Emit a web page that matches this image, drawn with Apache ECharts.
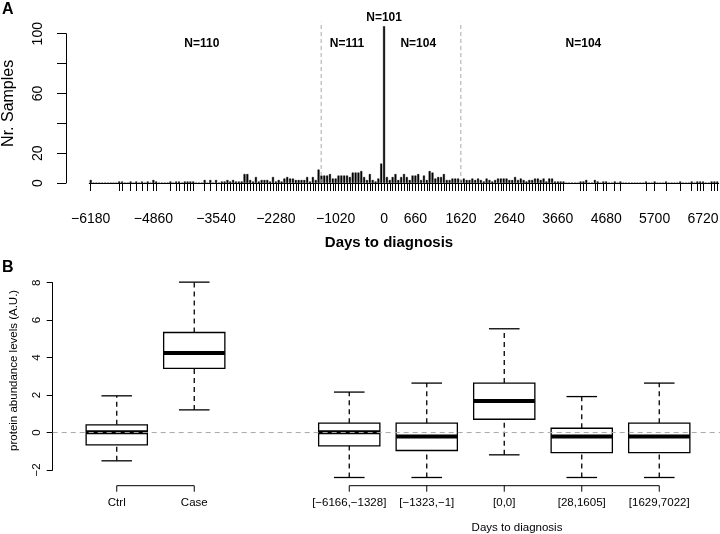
<!DOCTYPE html>
<html><head><meta charset="utf-8">
<script src="https://cdn.jsdelivr.net/npm/echarts@6/dist/echarts.min.js"></script>
<style>html,body{margin:0;padding:0;background:#fff}#c{width:720px;height:534px}</style>
</head><body><div id="c"></div>
<script>
// ---------- Panel A data: samples per 60-day bin ----------
const binStartDay = -6180;
const binWidthDays = 60;
const sampleCounts = [
  2,0,0,0,0,0,0,0,0,0,   1,1,0,0,1,0,1,0,1,0,
  1,0,2,1,0,0,0,0,1,0,   1,1,0,1,1,1,1,0,0,0,
  2,0,2,0,2,0,1,1,
  2,1,2,1,1,1,6,6,2,1,   4,1,2,2,2,1,4,1,2,1,
  3,4,3,3,2,2,2,2,4,1,   4,2,9,
  5,5,5,6,3,3,5,5,5,5,   4,7,7,7,8,4,2,6,2,1,   3,13,
  105,
  4,2,4,6,2,4,6,4,2,5,   5,6,2,5,2,8,7,3,4,4,   6,2,2,3,3,3,
  2,3,2,2,3,2,3,2,1,3,   2,1,2,3,3,3,3,2,2,4,
  2,3,2,1,2,2,3,3,2,3,   1,3,3,1,1,1,1,
  0,0,0,0,0,
  1,1,2,0,0,2,1,0,1,1,   0,0,1,0,1,0,0,0,0,0,
  0,0,0,1,0,0,1,0,0,0,   1,0,0,0,0,1,0,0,0,1,
  0,1,1,1,0,0,1,1,1
];
const tickLabelDays = [-6180,-4860,-3540,-2280,-1020,0,660,1620,2640,3660,4680,5700,6720];
const groupBreakDays = [-1325, 1617];
const groupLabels = ['N=110','N=111','N=101','N=104','N=104'];
const groupLabelDays = [-3840, -780, 0, 720, 4200];
const groupLabelLevels = [93.6, 93.6, 111, 93.6, 93.6];

// ---------- Panel B data: protein abundance boxplots ----------
const boxCategories = ['Ctrl','Case','','[-6166,-1328]','[-1323,-1]','[0,0]','[28,1605]','[1629,7022]'];
const boxSlots      = [0, 1, 3, 4, 5, 6, 7];
const whiskerLow    = [-1.51, 1.21, -2.40, -2.40, -1.19, -2.40, -2.40];
const quart1        = [-0.66, 3.43, -0.71, -0.96,  0.71, -1.07, -1.07];
const medians       = [ 0.02, 4.24,  0.02, -0.21,  1.69, -0.21, -0.21];
const quart3        = [ 0.41, 5.34,  0.50,  0.50,  2.64,  0.23,  0.50];
const whiskerHigh   = [ 1.96, 8.03,  2.16,  2.64,  5.54,  1.92,  2.64];
const bracketGroups = [[0,1],[3,7]];

const minus = s => String(s).replace(/-/g, '\u2212');
const FONT = 'Liberation Sans, Arial, Helvetica, sans-serif';

const binCats = sampleCounts.map((_, i) => String(binStartDay + i * binWidthDays));
const boxData = boxSlots.map((s, i) => [s, whiskerLow[i], quart1[i], medians[i], quart3[i], whiskerHigh[i]]);

const chart = echarts.init(document.getElementById('c'), null, {renderer: 'canvas'});

function binCoord(api, day) {
  const f = (day - binStartDay) / binWidthDays;
  const k = Math.floor(f);
  const a = api.coord([k, 0])[0], b = api.coord([k + 1, 0])[0];
  return a + (f - k) * (b - a);
}

const option = {
  backgroundColor: '#fff',
  animation: false,
  textStyle: {fontFamily: FONT, color: '#000'},
  grid: [
    {left: 89.3, top: 33.7, width: 629.4, height: 149.3, containLabel: false, outerBoundsMode: 'none'},
    {left: 78, top: 282.7, width: 620, height: 187.3, containLabel: false, outerBoundsMode: 'none'}
  ],
  xAxis: [
    {
      type: 'category', gridIndex: 0, data: binCats, offset: 4,
      axisLine: {show: true, lineStyle: {color: '#000', width: 1}},
      axisTick: {show: true, alignWithLabel: true, length: 8, lineStyle: {color: '#000', width: 1},
        interval: (i) => sampleCounts[i] > 0},
      axisLabel: {show: true, interval: (i, v) => tickLabelDays.indexOf(+v) >= 0,
        formatter: v => minus(v), fontSize: 14, color: '#000', margin: 25, fontFamily: FONT},
      splitLine: {show: false},
      name: 'Days to diagnosis', nameLocation: 'middle', nameGap: 48,
      nameTextStyle: {fontSize: 15, fontWeight: 'bold', color: '#000', padding: [0, 30, 0, 0], fontFamily: FONT}
    },
    {
      type: 'category', gridIndex: 1, data: boxCategories,
      axisLine: {show: false}, axisTick: {show: false},
      axisLabel: {show: true, interval: 0, formatter: v => minus(v), fontSize: 11.5, color: '#000', margin: 27, fontFamily: FONT},
      splitLine: {show: false}
    }
  ],
  yAxis: [
    {
      type: 'value', gridIndex: 0, min: 0, max: 100, interval: 20, offset: 23.3,
      axisLine: {show: true, lineStyle: {color: '#000', width: 1}},
      axisTick: {show: true, length: 9, lineStyle: {color: '#000'}},
      axisLabel: {rotate: 90, fontSize: 14, color: '#000', margin: 21, fontFamily: FONT,
        formatter: v => (v === 40 || v === 80) ? '' : String(v)},
      splitLine: {show: false},
      name: 'Nr. Samples', nameLocation: 'middle', nameRotate: 90, nameGap: 49, nameMoveOverlap: false,
      nameTextStyle: {fontSize: 16, color: '#000', fontFamily: FONT, padding: [0, 0, 0, 10]}
    },
    {
      type: 'value', gridIndex: 1, min: -2, max: 8, interval: 2, offset: 25.3,
      axisLine: {show: true, lineStyle: {color: '#000', width: 1}},
      axisTick: {show: true, length: 6, lineStyle: {color: '#000'}},
      axisLabel: {rotate: 90, fontSize: 11.5, color: '#000', margin: 10, fontFamily: FONT, formatter: v => minus(v)},
      splitLine: {show: false},
      name: 'protein abundance levels (A.U.)', nameLocation: 'middle', nameRotate: 90, nameGap: 33, nameMoveOverlap: false,
      nameTextStyle: {fontSize: 11.5, color: '#000', fontFamily: FONT, padding: [0, 0, 0, 12]}
    }
  ],
  series: [
    {
      type: 'bar', xAxisIndex: 0, yAxisIndex: 0, data: sampleCounts, barWidth: 2, clip: false,
      itemStyle: {color: '#000', borderColor: '#000', borderWidth: 0.4}, z: 3
    },
    {
      type: 'custom', xAxisIndex: 0, yAxisIndex: 0, data: groupBreakDays.map(d => [d]), z: 4, silent: true,
      renderItem: (params, api) => {
        const x = binCoord(api, api.value(0));
        const y0 = api.coord([0, 0])[1], y1 = api.coord([0, 108])[1];
        return {type: 'line', shape: {x1: x, y1: y0, x2: x, y2: y1},
          style: {stroke: '#aaa', lineWidth: 1, lineDash: [4, 3]}};
      }
    },
    {
      type: 'custom', xAxisIndex: 0, yAxisIndex: 0, z: 5, silent: true,
      data: groupLabels.map((t, i) => [groupLabelDays[i], groupLabelLevels[i], t]),
      renderItem: (params, api) => {
        const x = binCoord(api, api.value(0));
        const y = api.coord([0, api.value(1)])[1];
        return {type: 'text', style: {x: x, y: y, text: groupLabels[params.dataIndex], fill: '#000',
          font: 'bold 12px ' + FONT, textAlign: 'center', textVerticalAlign: 'middle'}};
      }
    },
    {
      type: 'custom', xAxisIndex: 1, yAxisIndex: 1, data: boxData, z: 3, silent: true,
      renderItem: (params, api) => {
        const xi = api.value(0);
        const cx = api.coord([xi, 0])[0];
        const bw = api.size([1, 0])[0] * 0.79;
        const hw = bw / 2, cw = bw / 4;
        const yy = j => api.coord([xi, api.value(j)])[1];
        const yl = yy(1), y1 = yy(2), ym = yy(3), y3 = yy(4), yh = yy(5);
        const solid = {stroke: '#000', lineWidth: 1.3};
        const dash = {stroke: '#000', lineWidth: 1.3, lineDash: [5, 4]};
        return {type: 'group', children: [
          {type: 'line', shape: {x1: cx, y1: y3, x2: cx, y2: yh}, style: dash},
          {type: 'line', shape: {x1: cx, y1: yl, x2: cx, y2: y1}, style: dash},
          {type: 'line', shape: {x1: cx - cw, y1: yh, x2: cx + cw, y2: yh}, style: solid},
          {type: 'line', shape: {x1: cx - cw, y1: yl, x2: cx + cw, y2: yl}, style: solid},
          {type: 'rect', shape: {x: cx - hw, y: y3, width: bw, height: y1 - y3}, style: {fill: '#fff', stroke: '#000', lineWidth: 1.3}},
          {type: 'line', shape: {x1: cx - hw, y1: ym, x2: cx + hw, y2: ym}, style: {stroke: '#000', lineWidth: 4}}
        ]};
      }
    },
    {
      type: 'custom', xAxisIndex: 1, yAxisIndex: 1, data: [[0]], z: 6, silent: true,
      renderItem: (params, api) => {
        const cs = params.coordSys;
        const y = api.coord([0, api.value(0)])[1];
        return {type: 'line', shape: {x1: cs.x - 25.3, y1: y, x2: cs.x + cs.width + 22, y2: y},
          style: {stroke: '#aaa', lineWidth: 1, lineDash: [5, 4]}};
      }
    },
    {
      type: 'custom', xAxisIndex: 1, yAxisIndex: 1, data: bracketGroups, z: 6, silent: true,
      renderItem: (params, api) => {
        const a = api.value(0), b = api.value(1);
        const yb = api.coord([0, -2])[1] + 15.7;
        const children = [];
        const xa = api.coord([a, 0])[0], xb = api.coord([b, 0])[0];
        children.push({type: 'line', shape: {x1: xa, y1: yb, x2: xb, y2: yb}, style: {stroke: '#000', lineWidth: 1}});
        for (let k = a; k <= b; k++) {
          const x = api.coord([k, 0])[0];
          children.push({type: 'line', shape: {x1: x, y1: yb, x2: x, y2: yb + 6}, style: {stroke: '#000', lineWidth: 1}});
        }
        return {type: 'group', children};
      }
    }
  ],
  graphic: [
    {type: 'text', left: 2, top: 2, style: {text: 'A', font: 'bold 16px ' + FONT, fill: '#000'}},
    {type: 'text', left: 2, top: 260, style: {text: 'B', font: 'bold 16px ' + FONT, fill: '#000'}},
    {type: 'text', x: 517, y: 522, style: {text: 'Days to diagnosis', font: '11.5px ' + FONT, fill: '#000', textAlign: 'center'}}
  ]
};
chart.setOption(option);
</script>
</body></html>
